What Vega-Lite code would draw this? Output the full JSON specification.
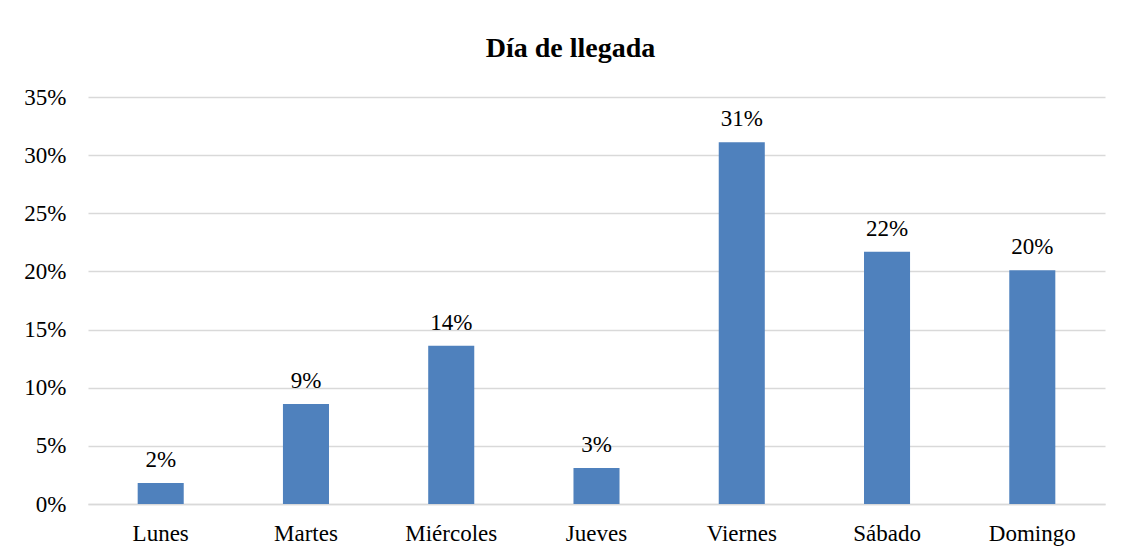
{
  "$schema": "https://vega.github.io/schema/vega-lite/v6.json",
  "autosize": {"type": "none"},
  "width": 1017,
  "height": 407,
  "padding": {"left": 88, "top": 97, "right": 18, "bottom": 49},
  "background": "white",
  "title": {
    "text": "Día de llegada",
    "font": "Liberation Serif",
    "fontSize": 28,
    "fontWeight": "bold",
    "color": "#000000",
    "anchor": "middle",
    "baseline": "alphabetic",
    "offset": 1,
    "dx": -26
  },
  "data": {
    "values": [
      {"dia": "Lunes", "pct": 0.018},
      {"dia": "Martes", "pct": 0.086},
      {"dia": "Miércoles", "pct": 0.136},
      {"dia": "Jueves", "pct": 0.031},
      {"dia": "Viernes", "pct": 0.311},
      {"dia": "Sábado", "pct": 0.217},
      {"dia": "Domingo", "pct": 0.201}
    ]
  },
  "encoding": {
    "x": {
      "field": "dia",
      "type": "nominal",
      "sort": null,
      "title": null,
      "scale": {"paddingInner": 0.683, "paddingOuter": 0.342},
      "axis": {
        "labelAngle": 0,
        "labelFont": "Liberation Serif",
        "labelFontSize": 23,
        "labelColor": "#000000",
        "labelBaseline": "alphabetic",
        "labelPadding": 36,
        "ticks": false,
        "tickSize": 0,
        "domain": true,
        "domainColor": "#D9D9D9",
        "domainWidth": 1.3,
        "grid": false
      }
    },
    "y": {
      "field": "pct",
      "type": "quantitative",
      "title": null,
      "scale": {"domain": [0, 0.35], "nice": false},
      "axis": {
        "format": ".0%",
        "values": [0, 0.05, 0.1, 0.15, 0.2, 0.25, 0.3, 0.35],
        "labelFont": "Liberation Serif",
        "labelFontSize": 23,
        "labelColor": "#000000",
        "labelPadding": 22,
        "ticks": false,
        "tickSize": 0,
        "domain": false,
        "grid": true,
        "gridColor": "#D9D9D9",
        "gridWidth": 1.3
      }
    }
  },
  "layer": [
    {"mark": {"type": "bar", "color": "#4F81BD"}},
    {
      "mark": {
        "type": "text",
        "font": "Liberation Serif",
        "fontSize": 23,
        "color": "#000000",
        "baseline": "alphabetic",
        "dy": -16
      },
      "encoding": {"text": {"field": "pct", "format": ".0%"}}
    }
  ],
  "config": {"view": {"stroke": null}}
}
